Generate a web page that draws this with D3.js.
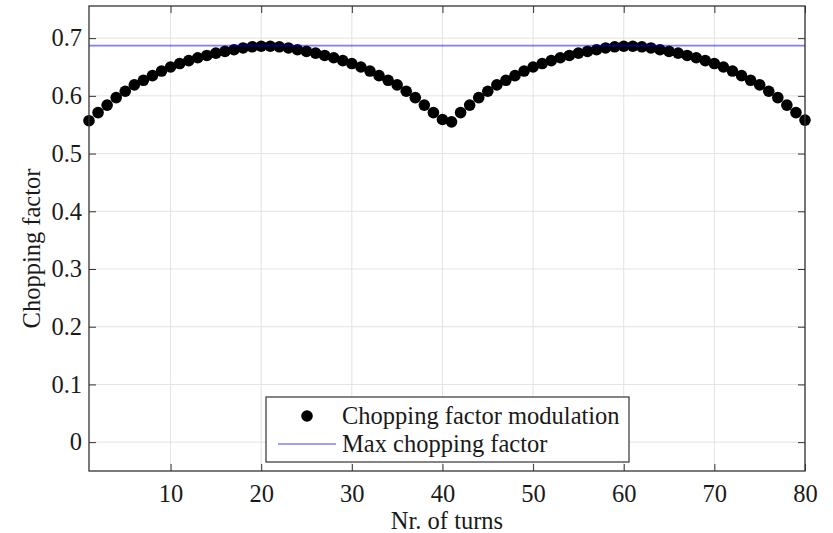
<!DOCTYPE html>
<html>
<head>
<meta charset="utf-8">
<script src="https://cdn.jsdelivr.net/npm/d3@7"></script>
<style>
  html, body { margin: 0; padding: 0; background: #fff; }
  svg { display: block; }
  text { font-family: "Liberation Serif", "Times New Roman", serif; fill: #1a1a1a; }
</style>
</head>
<body>
<svg id="chart" width="833" height="533"></svg>
<script>
// Turn index (1..80)
const turns = d3.range(1, 81);

// Chopping factor at each turn
const choppingFactor = [
  0.557, 0.571, 0.584, 0.597, 0.608, 0.619, 0.627, 0.635, 0.643, 0.650,
  0.656, 0.661, 0.666, 0.670, 0.674, 0.677, 0.680, 0.683, 0.685, 0.686,
  0.686, 0.685, 0.683, 0.680, 0.677, 0.674, 0.670, 0.666, 0.661, 0.656,
  0.650, 0.643, 0.635, 0.627, 0.619, 0.608, 0.597, 0.584, 0.571, 0.559,
  0.555, 0.571, 0.584, 0.597, 0.608, 0.619, 0.627, 0.635, 0.643, 0.650,
  0.656, 0.661, 0.666, 0.670, 0.674, 0.677, 0.680, 0.683, 0.685, 0.686,
  0.686, 0.685, 0.683, 0.680, 0.677, 0.674, 0.670, 0.666, 0.661, 0.656,
  0.650, 0.643, 0.635, 0.627, 0.619, 0.608, 0.597, 0.584, 0.571, 0.558
];

// Maximum chopping factor (horizontal reference line)
const maxChoppingFactor = 0.687;

// Axis ticks
const xTicks = [10, 20, 30, 40, 50, 60, 70, 80];
const yTicks = [0, 0.1, 0.2, 0.3, 0.4, 0.5, 0.6, 0.7];

// Legend entries
const legendLabels = ["Chopping factor modulation", "Max chopping factor"];
const axisLabels = { x: "Nr. of turns", y: "Chopping factor" };

const svg = d3.select("#chart");
const margin = { left: 89, right: 28, top: 6, bottom: 62 };
const W = 833, H = 533;
const plotW = W - margin.left - margin.right;
const plotH = H - margin.top - margin.bottom;

const x = d3.scaleLinear().domain([1, 80]).range([0, plotW]);
const y = d3.scaleLinear().domain([-0.05, maxChoppingFactor * 1.1]).range([plotH, 0]);

const g = svg.append("g").attr("transform", `translate(${margin.left},${margin.top})`);

// Grid
g.append("g").selectAll("line").data(xTicks).join("line")
  .attr("x1", d => x(d)).attr("x2", d => x(d))
  .attr("y1", 0).attr("y2", plotH)
  .attr("stroke", "#e3e3e3").attr("stroke-width", 1);
g.append("g").selectAll("line").data(yTicks).join("line")
  .attr("x1", 0).attr("x2", plotW)
  .attr("y1", d => y(d)).attr("y2", d => y(d))
  .attr("stroke", "#e3e3e3").attr("stroke-width", 1);

// Data points
g.append("g").selectAll("circle").data(turns).join("circle")
  .attr("cx", (d, i) => x(d))
  .attr("cy", (d, i) => y(choppingFactor[i]))
  .attr("r", 5.8)
  .attr("fill", "#000");

// Max line (semi-transparent blue)
g.append("line")
  .attr("x1", x(1)).attr("x2", x(80))
  .attr("y1", y(maxChoppingFactor)).attr("y2", y(maxChoppingFactor))
  .attr("stroke", "rgb(0,0,255)").attr("stroke-opacity", 0.5).attr("stroke-width", 1.6);

// Axes (ticks inward, box on all sides)
const tickLen = 7;
const fontSize = 24.5;
const axisColor = "#333";

const xAxisB = d3.axisBottom(x).tickValues(xTicks).tickSizeInner(-tickLen).tickSizeOuter(0).tickPadding(14);
const xAxisT = d3.axisTop(x).tickValues(xTicks).tickSizeInner(-tickLen).tickSizeOuter(0).tickFormat("");
const yAxisL = d3.axisLeft(y).tickValues(yTicks).tickSizeInner(-tickLen).tickSizeOuter(0).tickPadding(7).tickFormat(d => d === 0 ? "0" : d3.format(".1f")(d));
const yAxisR = d3.axisRight(y).tickValues(yTicks).tickSizeInner(-tickLen).tickSizeOuter(0).tickFormat("");

function style(sel) {
  sel.select(".domain").remove();
  sel.selectAll(".tick line").attr("stroke", axisColor).attr("stroke-width", 1);
  sel.selectAll(".tick text").attr("font-size", fontSize).attr("fill", "#1a1a1a")
    .attr("font-family", '"Liberation Serif", "Times New Roman", serif');
}
g.append("g").attr("transform", `translate(0,${plotH})`).call(xAxisB).call(style);
g.append("g").call(xAxisT).call(style);
g.append("g").call(yAxisL).call(style);
g.append("g").attr("transform", `translate(${plotW},0)`).call(yAxisR).call(style);

// Box
g.append("rect").attr("x", 0).attr("y", 0).attr("width", plotW).attr("height", plotH)
  .attr("fill", "none").attr("stroke", axisColor).attr("stroke-width", 1.3);

// Axis labels
svg.append("text")
  .attr("x", margin.left + plotW / 2).attr("y", H - 4)
  .attr("text-anchor", "middle").attr("font-size", fontSize)
  .text(axisLabels.x);
svg.append("text")
  .attr("transform", `translate(40,${margin.top + plotH / 2 + 10}) rotate(-90)`)
  .attr("text-anchor", "middle").attr("font-size", fontSize)
  .text(axisLabels.y);

// Legend
const lg = svg.append("g").attr("transform", "translate(266,397)");
lg.append("rect").attr("width", 363).attr("height", 65)
  .attr("fill", "#fff").attr("stroke", axisColor).attr("stroke-width", 1.2);
lg.append("circle").attr("cx", 41).attr("cy", 19).attr("r", 5.8).attr("fill", "#000");
lg.append("line").attr("x1", 12).attr("x2", 70).attr("y1", 47).attr("y2", 47)
  .attr("stroke", "rgb(0,0,255)").attr("stroke-opacity", 0.5).attr("stroke-width", 1.6);
lg.selectAll("text.lbl").data(legendLabels).join("text")
  .attr("class", "lbl")
  .attr("x", 76).attr("y", (d, i) => 27 + i * 28)
  .attr("font-size", fontSize)
  .text(d => d);
</script>
</body>
</html>
